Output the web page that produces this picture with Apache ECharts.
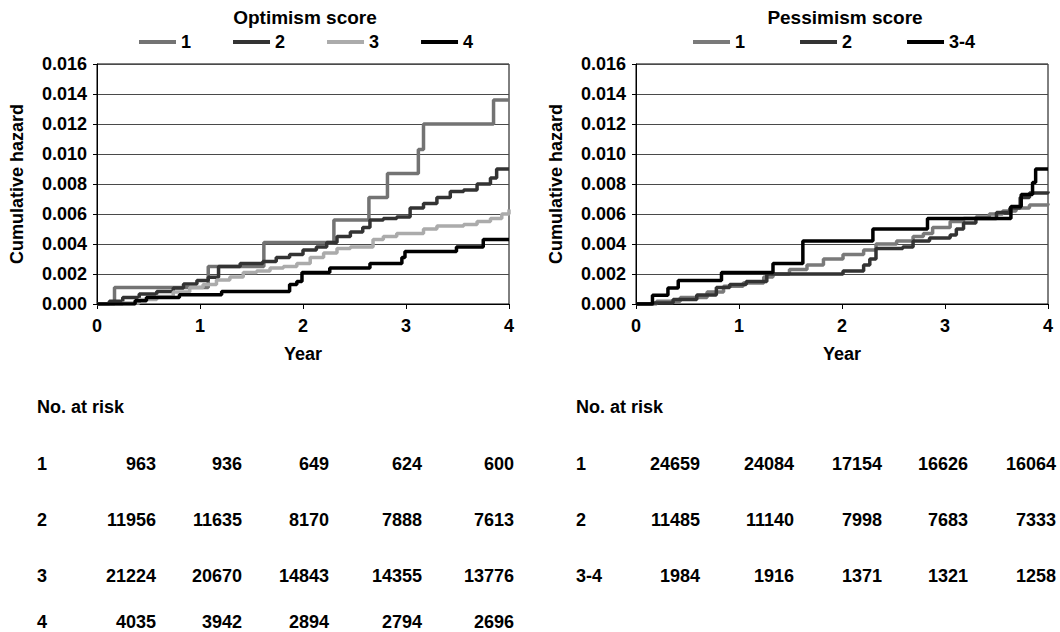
<!DOCTYPE html>
<html>
<head>
<meta charset="utf-8">
<script src="https://cdn.jsdelivr.net/npm/echarts@6/dist/echarts.min.js"></script>
<style>
html,body{margin:0;padding:0;background:#fff;}
#chart{width:1060px;height:632px;}
</style>
</head>
<body>
<div id="chart"></div>
<script>
// ---- Data ----
var yTicks = [0, 0.002, 0.004, 0.006, 0.008, 0.010, 0.012, 0.014, 0.016];
var optLabels = ['1', '2', '3', '4'];
var pesLabels = ['1', '2', '3-4'];

// Optimism score curves (year, cumulative hazard after step)
var opt1Years = [0, 0.17, 1.08, 1.62, 2.30, 2.64, 2.82, 3.12, 3.17, 3.85, 4.0];
var opt1Haz   = [0, 0.0011, 0.0025, 0.0041, 0.0056, 0.0071, 0.0087, 0.0103, 0.0120, 0.0136, 0.0136];

var opt2Years = [0, 0.12, 0.25, 0.41, 0.58, 0.74, 0.84, 0.97, 1.08, 1.18, 1.39, 1.61, 1.74, 1.87, 2.00, 2.13, 2.23, 2.33, 2.46, 2.58, 2.65, 2.78, 2.91, 3.04, 3.17, 3.30, 3.43, 3.56, 3.69, 3.82, 3.88, 4.0];
var opt2Haz   = [0, 0.00018, 0.00044, 0.00067, 0.00084, 0.00107, 0.00133, 0.00156, 0.00178, 0.0025, 0.0027, 0.00284, 0.0031, 0.0033, 0.0036, 0.0038, 0.0041, 0.0045, 0.0048, 0.0051, 0.0056, 0.0057, 0.0058, 0.0064, 0.0067, 0.0071, 0.0075, 0.0076, 0.0080, 0.0084, 0.0090, 0.0090];

var opt3Years = [0, 0.25, 0.41, 0.58, 0.74, 0.90, 1.03, 1.16, 1.29, 1.42, 1.55, 1.68, 1.81, 1.94, 2.07, 2.20, 2.33, 2.46, 2.58, 2.68, 2.78, 2.91, 3.04, 3.17, 3.30, 3.43, 3.56, 3.69, 3.82, 3.93, 4.0];
var opt3Haz   = [0, 0.00007, 0.0003, 0.0005, 0.0008, 0.0011, 0.0013, 0.0016, 0.0018, 0.0021, 0.0022, 0.0024, 0.0025, 0.0027, 0.0031, 0.0034, 0.0037, 0.0038, 0.0038, 0.0043, 0.0045, 0.0047, 0.0047, 0.0050, 0.0052, 0.0052, 0.0053, 0.0055, 0.0057, 0.0060, 0.0063];

var opt4Years = [0, 0.37, 0.48, 0.80, 1.21, 1.87, 1.94, 1.99, 2.26, 2.65, 2.96, 2.99, 3.49, 3.75, 4.0];
var opt4Haz   = [0, 0.00022, 0.00044, 0.00062, 0.00084, 0.0013, 0.0015, 0.0021, 0.0024, 0.0027, 0.0031, 0.0035, 0.0038, 0.0043, 0.0043];

// Pessimism score curves
var pes1Years = [0, 0.20, 0.43, 0.69, 0.85, 1.04, 1.24, 1.33, 1.49, 1.66, 1.82, 2.01, 2.21, 2.33, 2.53, 2.69, 2.79, 2.88, 3.05, 3.18, 3.30, 3.43, 3.56, 3.69, 3.82, 4.0];
var pes1Haz   = [0, 0.00018, 0.00044, 0.0008, 0.00118, 0.0014, 0.0018, 0.0020, 0.0023, 0.0026, 0.0030, 0.0033, 0.0036, 0.0040, 0.0042, 0.0045, 0.0047, 0.0051, 0.0055, 0.0057, 0.0058, 0.0060, 0.0062, 0.0064, 0.0066, 0.0067];

var pes2Years = [0, 0.17, 0.36, 0.59, 0.78, 0.91, 1.07, 1.27, 2.01, 2.21, 2.27, 2.33, 2.59, 2.69, 2.85, 3.05, 3.11, 3.18, 3.30, 3.50, 3.63, 3.73, 3.82, 4.0];
var pes2Haz   = [0, 0.00007, 0.0003, 0.0006, 0.0011, 0.0013, 0.0015, 0.0020, 0.0022, 0.0026, 0.0030, 0.0037, 0.0038, 0.0042, 0.0044, 0.0046, 0.0050, 0.0054, 0.0057, 0.0061, 0.0064, 0.0071, 0.0074, 0.0075];

var pes34Years = [0, 0.16, 0.31, 0.41, 0.83, 1.33, 1.62, 2.30, 2.83, 3.64, 3.74, 3.85, 3.88, 4.0];
var pes34Haz   = [0, 0.00058, 0.00107, 0.00156, 0.0021, 0.0027, 0.0042, 0.0050, 0.0057, 0.0065, 0.0073, 0.0081, 0.0090, 0.0090];

// Numbers at risk
var riskYears = [0, 1, 2, 3, 4];
var optRisk1 = [963, 936, 649, 624, 600];
var optRisk2 = [11956, 11635, 8170, 7888, 7613];
var optRisk3 = [21224, 20670, 14843, 14355, 13776];
var optRisk4 = [4035, 3942, 2894, 2794, 2696];
var pesRisk1 = [24659, 24084, 17154, 16626, 16064];
var pesRisk2 = [11485, 11140, 7998, 7683, 7333];
var pesRisk34 = [1984, 1916, 1371, 1321, 1258];

// ---- Build ----
function zip(xs, ys) { return xs.map(function (x, i) { return [x, ys[i]]; }); }
var FONT = 'Liberation Sans';
var txt = { fontFamily: FONT, fontWeight: 'bold', fontSize: 18, color: '#000' };

function xAxis(idx) {
  return {
    type: 'value', gridIndex: idx, min: 0, max: 4, interval: 1,
    name: 'Year', nameLocation: 'middle', nameGap: 41,
    nameTextStyle: txt,
    axisLine: { show: true, onZero: false, lineStyle: { color: '#000', width: 1 } },
    axisTick: { show: true, length: 5, lineStyle: { color: '#000' } },
    axisLabel: Object.assign({ margin: 13 }, txt),
    splitLine: { show: false }
  };
}
function yAxis(idx) {
  return {
    type: 'value', gridIndex: idx, min: 0, max: 0.016, interval: 0.002,
    name: 'Cumulative hazard', nameLocation: 'middle', nameGap: 71,
    nameTextStyle: txt,
    axisLine: { show: true, lineStyle: { color: '#000', width: 1 } },
    axisTick: { show: true, length: 4, lineStyle: { color: '#000' } },
    axisLabel: Object.assign({ margin: 10, formatter: function (v) { return v.toFixed(3); } }, txt),
    splitLine: { show: true, lineStyle: { color: '#4a4a4a', width: 1 } }
  };
}
function line(name, xi, xs, ys, color) {
  return {
    name: name, type: 'line', xAxisIndex: xi, yAxisIndex: xi, step: 'end',
    data: zip(xs, ys), symbol: 'none', showSymbol: false,
    lineStyle: { color: color, width: 3.5 }, itemStyle: { color: color },
    emphasis: { disabled: true }, silent: true, animation: false
  };
}

var optColors = ['#737373', '#333333', '#ababab', '#000000'];
var pesColors = ['#7a7a7a', '#333333', '#000000'];

var series = [
  line(optLabels[0], 0, opt1Years, opt1Haz, optColors[0]),
  line(optLabels[1], 0, opt2Years, opt2Haz, optColors[1]),
  line(optLabels[2], 0, opt3Years, opt3Haz, optColors[2]),
  line(optLabels[3], 0, opt4Years, opt4Haz, optColors[3]),
  line(pesLabels[0] + ' ', 1, pes1Years, pes1Haz, pesColors[0]),
  line(pesLabels[1] + ' ', 1, pes2Years, pes2Haz, pesColors[1]),
  line(pesLabels[2], 1, pes34Years, pes34Haz, pesColors[2])
];

// Tables as graphic text
var graphics = [];
function addText(x, y, s, align) {
  graphics.push({ type: 'text', x: x, y: y, silent: true,
    style: { text: String(s), x: 0, y: 0, align: align, verticalAlign: 'middle',
      font: 'bold 18px "' + FONT + '"', fill: '#000' } });
}
function table(labelX, colX, titleY, rowY, labels, rows) {
  addText(labelX, titleY, 'No. at risk', 'left');
  rows.forEach(function (r, i) {
    addText(labelX, rowY[i], labels[i], 'left');
    r.forEach(function (v, j) { addText(colX[j], rowY[i], v, 'right'); });
  });
}
var rowY = [464, 520, 576, 622];
table(37, [156, 242, 329, 422, 514], 407, rowY, optLabels, [optRisk1, optRisk2, optRisk3, optRisk4]);
table(576, [700, 794, 882, 968, 1056], 407, rowY, pesLabels, [pesRisk1, pesRisk2, pesRisk34]);

var option = {
  animation: false,
  backgroundColor: '#fff',
  title: [
    { text: 'Optimism score', left: 300, top: 3, textAlign: 'center', textStyle: Object.assign({}, txt, { fontSize: 19 }) },
    { text: 'Pessimism score', left: 840, top: 3, textAlign: 'center', textStyle: Object.assign({}, txt, { fontSize: 19 }) }
  ],
  legend: [
    { data: optLabels, left: 134, top: 28, itemWidth: 37, itemHeight: 4, itemGap: 42, icon: 'rect',
      textStyle: txt, selectedMode: false },
    { data: [pesLabels[0] + ' ', pesLabels[1] + ' ', pesLabels[2]], left: 688, top: 28, itemWidth: 37, itemHeight: 4, itemGap: 50, icon: 'rect',
      textStyle: txt, selectedMode: false }
  ],
  grid: [
    { left: 97, top: 64, width: 412, height: 240, show: true, borderColor: '#000', borderWidth: 1, backgroundColor: 'transparent' },
    { left: 636, top: 64, width: 412, height: 240, show: true, borderColor: '#000', borderWidth: 1, backgroundColor: 'transparent' }
  ],
  xAxis: [xAxis(0), xAxis(1)],
  yAxis: [yAxis(0), yAxis(1)],
  series: series,
  graphic: graphics
};

var chart = echarts.init(document.getElementById('chart'), null, { renderer: 'svg' });
chart.setOption(option);
</script>
</body>
</html>
